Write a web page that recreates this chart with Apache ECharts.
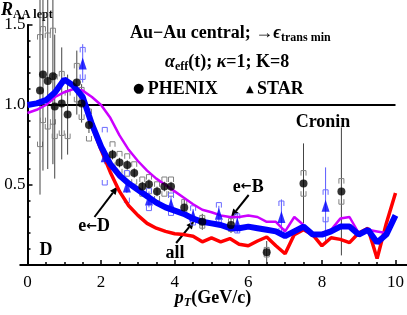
<!DOCTYPE html>
<html>
<head>
<meta charset="utf-8">
<script src="https://cdn.jsdelivr.net/npm/echarts@6/dist/echarts.min.js"></script>
<style>
html,body{margin:0;padding:0;background:#fff}
#main{width:407px;height:315px}
</style>
</head>
<body>
<div id="main"></div>
<script>
/* R_AA of non-photonic electrons, Au-Au central */

// model curves: pT grid (GeV/c)
var ptGrid = [0, 0.25, 0.5, 0.75, 1, 1.25, 1.5, 1.75, 2, 2.25, 2.5, 2.75, 3, 3.25, 3.5, 3.75, 4, 4.25, 4.5, 4.75,
              5, 5.25, 5.5, 5.75, 6, 6.25, 6.5, 6.75, 7, 7.25, 7.5, 7.75, 8, 8.25, 8.5, 8.75, 9, 9.25, 9.5, 9.75, 10];
// e <- D (red)
var fromD = [1.0, 1.01, 1.03, 1.08, 1.16, 1.12, 1.04, 0.87, 0.72, 0.58, 0.46, 0.37, 0.31, 0.26, 0.23, 0.21, 0.195, 0.19, 0.18, 0.145,
             0.17, 0.145, 0.165, 0.13, 0.12, 0.15, 0.175, 0.12, 0.07, 0.19, 0.22, 0.19, 0.12, 0.17, 0.16, 0.14, 0.2, 0.23, 0.04, 0.26, 0.45];
// e <- B (magenta)
var fromB = [0.95, 0.97, 1.0, 1.05, 1.08, 1.1, 1.09, 1.05, 1.0, 0.92, 0.81, 0.72, 0.65, 0.59, 0.54, 0.5, 0.46, 0.42, 0.38, 0.345,
             0.33, 0.31, 0.3, 0.3, 0.31, 0.3, 0.27, 0.27, 0.21, 0.3, 0.25, 0.19, 0.2, 0.22, 0.29, 0.3, 0.2, 0.22, 0.21, 0.2, 0.3];
// all (blue)
var allE = [1.0, 1.01, 1.03, 1.08, 1.16, 1.12, 1.05, 0.88, 0.74, 0.63, 0.56, 0.51, 0.47, 0.43, 0.39, 0.36, 0.34, 0.32, 0.29, 0.27,
            0.26, 0.25, 0.23, 0.23, 0.24, 0.23, 0.22, 0.21, 0.18, 0.21, 0.24, 0.19, 0.19, 0.21, 0.24, 0.24, 0.19, 0.22, 0.14, 0.19, 0.31];

// PHENIX data: pT, R, stat error, syst error
var phxPt   = [0.34, 0.42, 0.55, 0.69, 0.74, 0.93, 1.09, 1.34, 1.47, 1.67, 2.31, 2.5, 2.71, 2.9, 3.12, 3.3, 3.52, 3.72, 3.9, 4.26, 4.75, 5.53, 6.5, 7.5, 8.53];
var phxR    = [1.09, 1.19, 1.15, 1.18, 0.99, 1.01, 0.94, 1.14, 1.01, 0.875, 0.69, 0.64, 0.625, 0.575, 0.49, 0.505, 0.46, 0.49, 0.49, 0.36, 0.27, 0.25, 0.08, 0.51, 0.46];
var phxStat = [0.65, 0.6, 0.55, 0.55, 0.45, 0.35, 0.25, 0.2, 0.12, 0.05, 0.03, 0.03, 0.03, 0.03, 0.03, 0.03, 0.03, 0.03, 0.03, 0.05, 0.05, 0.05, 0.07, 0.25, 0.4];
var phxSys  = [0.35, 0.3, 0.3, 0.3, 0.2, 0.2, 0.15, 0.12, 0.1, 0.1, 0.08, 0.07, 0.07, 0.07, 0.06, 0.06, 0.06, 0.06, 0.06, 0.05, 0.04, 0.04, 0.03, 0.08, 0.08];

// STAR data
var starPt   = [1.5, 2.1, 2.7, 3.3, 3.9, 4.5, 5.2, 5.7, 6.9, 8.1];
var starR    = [1.26, 0.68, 0.49, 0.41, 0.38, 0.31, 0.32, 0.26, 0.30, 0.37];
var starStat = [0.12, 0.05, 0.04, 0.05, 0.05, 0.04, 0.05, 0.06, 0.11, 0.24];
var starSys  = [0.1, 0.18, 0.1, 0.07, 0.07, 0.06, 0.07, 0.06, 0.1, 0.1];

var xTicks = [0, 2, 4, 6, 8, 10];
var yTicks = [0.5, 1.0, 1.5];

var serif = 'Liberation Serif';

function pairs(xs, ys) {
    var out = [];
    for (var i = 0; i < xs.length; i++) out.push([xs[i], ys[i]]);
    return out;
}
function rows(xs, ys, st, sy) {
    var out = [];
    for (var i = 0; i < xs.length; i++) out.push([xs[i], ys[i], st[i], sy[i]]);
    return out;
}

// stat bar + syst brackets
function errorItem(barColor, capColor) {
    return function (params, api) {
        var x = api.value(0), y = api.value(1), e = api.value(2), s = api.value(3);
        var lo = api.coord([x, y - e]), hi = api.coord([x, y + e]);
        var st = api.coord([x, y + s]), sb = api.coord([x, y - s]);
        var w = 2.5, h = 5;
        return {
            type: 'group',
            children: [
                {type: 'line', shape: {x1: lo[0], y1: lo[1], x2: hi[0], y2: hi[1]},
                 style: {stroke: barColor, lineWidth: 1}},
                {type: 'polyline', shape: {points: [[st[0] - w, st[1] + h], [st[0] - w, st[1]], [st[0] + w, st[1]], [st[0] + w, st[1] + h]]},
                 style: {stroke: capColor, fill: null, lineWidth: 1}},
                {type: 'polyline', shape: {points: [[sb[0] - w, sb[1] - h], [sb[0] - w, sb[1]], [sb[0] + w, sb[1]], [sb[0] + w, sb[1] - h]]},
                 style: {stroke: capColor, fill: null, lineWidth: 1}}
            ]
        };
    };
}

var myChart = echarts.init(document.getElementById('main'));
var option = {
    animation: false,
    textStyle: {fontFamily: serif},
    grid: {left: 27.5, right: 9.5, top: 25, bottom: 50},
    xAxis: {
        type: 'value', min: 0, max: 10, interval: 2,
        axisLine: {lineStyle: {color: '#000', width: 2}},
        axisTick: {inside: true, length: 5, lineStyle: {color: '#000', width: 1.5}},
        minorTick: {show: true, splitNumber: 4, length: 3, lineStyle: {color: '#000', width: 1.5}},
        splitLine: {show: false},
        axisLabel: {color: '#000', fontFamily: serif, fontSize: 17, margin: 9,
            formatter: function (v) { return xTicks.indexOf(v) >= 0 ? String(v) : ''; }}
    },
    yAxis: {
        type: 'value', min: 0, max: 1.5, interval: 0.5,
        axisLine: {show: true, lineStyle: {color: '#000', width: 2}},
        axisTick: {show: true, inside: true, length: 5, lineStyle: {color: '#000', width: 1.5}},
        minorTick: {show: true, splitNumber: 5, length: 3, lineStyle: {color: '#000', width: 1.5}},
        splitLine: {show: false},
        axisLabel: {color: '#000', fontFamily: serif, fontSize: 17, margin: 2,
            formatter: function (v) { return yTicks.indexOf(v) >= 0 ? v.toFixed(1) : ''; }}
    },
    series: [
        {type: 'line', data: [[0, 1], [10, 1]], showSymbol: false, silent: true,
         lineStyle: {color: '#000', width: 2}, z: 1},
        {type: 'custom', name: 'PHENIX err', renderItem: errorItem('#444', '#808080'),
         data: rows(phxPt, phxR, phxStat, phxSys), z: 2},
        {type: 'custom', name: 'STAR err', renderItem: errorItem('#5b5bff', '#6a6aff'),
         data: rows(starPt, starR, starStat, starSys), z: 2},
        {type: 'line', name: 'e<-D', data: pairs(ptGrid, fromD), showSymbol: false,
         lineStyle: {color: '#ff0000', width: 3.5}, z: 3},
        {type: 'line', name: 'e<-B', data: pairs(ptGrid, fromB), showSymbol: false,
         lineStyle: {color: '#cc00ff', width: 2.5}, z: 3},
        {type: 'line', name: 'all', data: pairs(ptGrid, allE), showSymbol: false,
         lineStyle: {color: '#0000ff', width: 6}, z: 4},
        {type: 'scatter', name: 'PHENIX', data: pairs(phxPt, phxR), symbol: 'circle', symbolSize: 8,
         itemStyle: {color: '#000'}, z: 5},
        {type: 'scatter', name: 'STAR', data: pairs(starPt, starR), symbol: 'triangle', symbolSize: [8, 12],
         itemStyle: {color: '#0000ff'}, z: 5}
    ]
};
myChart.setOption(option);

/* labels and arrows */
function px(p) { return myChart.convertToPixel({gridIndex: 0}, p); }

function arrow(from, to) {
    var a = px(from), b = px(to);
    var ang = Math.atan2(b[1] - a[1], b[0] - a[0]);
    var L = 8, W = 3.5;
    var bx = b[0] - L * Math.cos(ang), by = b[1] - L * Math.sin(ang);
    return [
        {type: 'line', shape: {x1: a[0], y1: a[1], x2: bx, y2: by}, style: {stroke: '#000', lineWidth: 2}},
        {type: 'polygon', shape: {points: [[b[0], b[1]],
            [bx + W * Math.sin(ang), by - W * Math.cos(ang)],
            [bx - W * Math.sin(ang), by + W * Math.cos(ang)]]}, style: {fill: '#000'}}
    ];
}

var rich = {
    b: {fontFamily: serif, fontWeight: 'bold', fontSize: 18, color: '#000'},
    bi: {fontFamily: serif, fontWeight: 'bold', fontStyle: 'italic', fontSize: 18, color: '#000'},
    sub: {fontFamily: serif, fontWeight: 'bold', fontSize: 12, color: '#000', padding: [9, 0, 0, 0]},
    subi: {fontFamily: serif, fontWeight: 'bold', fontStyle: 'italic', fontSize: 12, color: '#000', padding: [9, 0, 0, 0]},
    ar: {fontFamily: 'DejaVu Sans', fontWeight: 'bold', fontSize: 13, color: '#000'},
    blue: {fontFamily: 'DejaVu Sans', fontSize: 10, color: '#0000ff'},
    dot: {fontFamily: 'DejaVu Sans', fontSize: 13, color: '#000'}
};

function label(p, text) {
    var q = px(p);
    return {type: 'text', x: q[0], y: q[1],
        style: {text: text, rich: rich, align: 'center', verticalAlign: 'middle'}};
}

var x0 = px([0, 0]), x10 = px([10, 0]);
var g = [
    // axis line continues a little past the frame
    {type: 'line', shape: {x1: x0[0] - 8, y1: x0[1], x2: x0[0], y2: x0[1]}, style: {stroke: '#000', lineWidth: 2}},
    {type: 'line', shape: {x1: x10[0], y1: x10[1], x2: 407, y2: x10[1]}, style: {stroke: '#000', lineWidth: 2}},
    {type: 'text', x: 1, y: 10, style: {text: '{bi|R}{sub|AA lept}', rich: rich, verticalAlign: 'middle'}},
    {type: 'text', x: 213, y: 298, style: {text: '{bi|p}{subi|T}{b|(GeV/c)}', rich: rich, align: 'center', verticalAlign: 'middle'}},
    {type: 'text', x: 130, y: 33, style: {text: '{b|Au\u2212Au central; \u2192}{bi|\u03f5}{sub|trans min}', rich: rich, verticalAlign: 'middle'}},
    {type: 'text', x: 165, y: 62, style: {text: '{bi|\u03b1}{sub|eff}{b|(t); }{bi|\u03ba}{b|=1; K=8}', rich: rich, verticalAlign: 'middle'}},
    {type: 'text', x: 133, y: 89, style: {text: '{dot|\u25cf} {b|PHENIX}', rich: rich, verticalAlign: 'middle'}},
    {type: 'text', x: 246, y: 89, style: {text: '{blue|\u25b2} {b|STAR}', rich: rich, verticalAlign: 'middle'}},
    label([8.03, 0.89], '{b|Cronin}'),
    label([0.5, 0.094], '{b|D}'),
    label([1.81, 0.24], '{b|e}{ar|\u2190}{b|D}'),
    label([4.01, 0.075], '{b|all}'),
    label([6.0, 0.4875], '{b|e}{ar|\u2190}{b|B}')
];
g = g.concat(arrow([1.82, 0.30], [2.45, 0.49]));
g = g.concat(arrow([4.04, 0.1375], [4.53, 0.275]));
g = g.concat(arrow([6.01, 0.4375], [5.53, 0.30]));

myChart.setOption({graphic: g});
</script>
</body>
</html>
